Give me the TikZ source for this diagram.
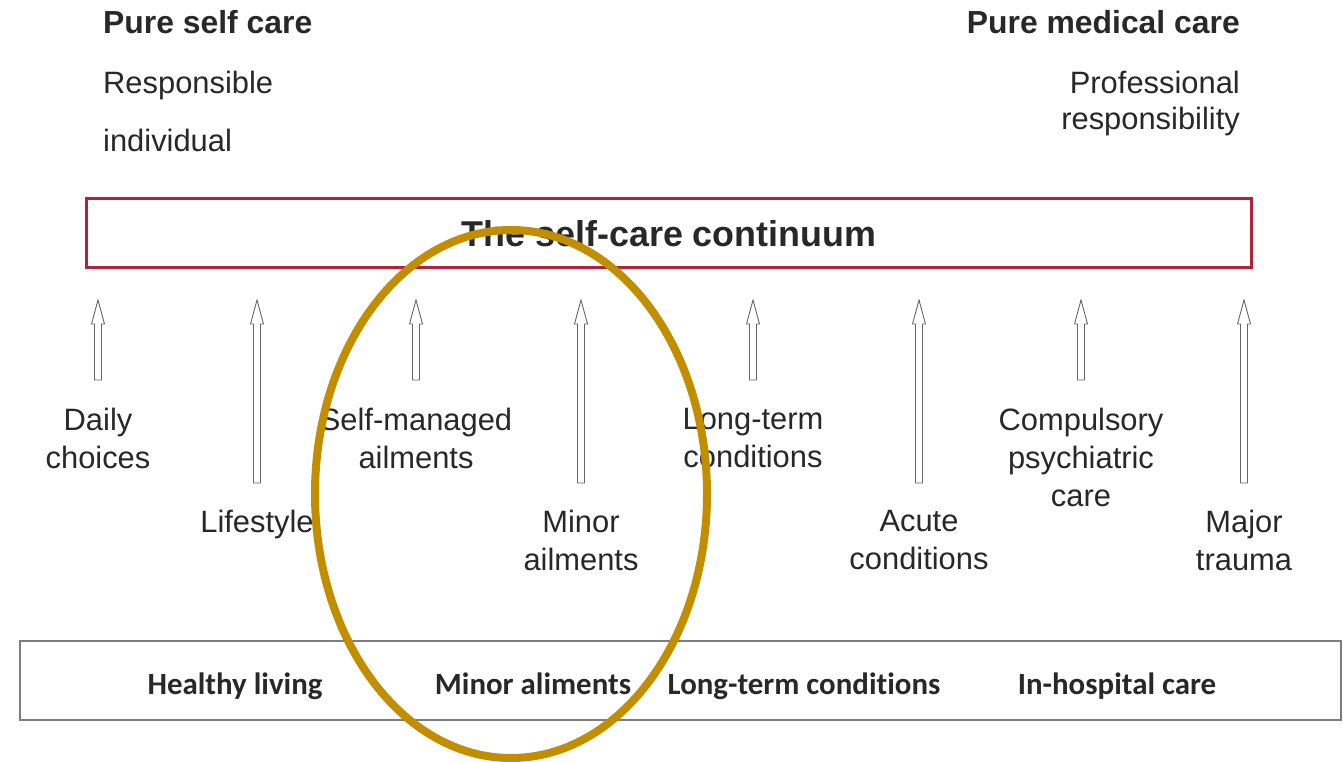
\documentclass[tikz,border=0pt]{standalone}
\usepackage{fontspec}
\setmainfont{Liberation Sans}
\newfontfamily\boxfont[Ligatures={NoCommon}]{Carlito}
\definecolor{contred}{RGB}{178,34,58}
\definecolor{gold}{RGB}{194,142,0}
\definecolor{boxgray}{RGB}{125,125,125}
\definecolor{txt}{RGB}{40,40,40}
\begin{document}
\begin{tikzpicture}[x=1bp,y=-1bp,
  head/.style={font=\bfseries\fontsize{32}{37}\selectfont,text=txt,inner sep=0},
  sub/.style={font=\fontsize{31}{37}\selectfont,text=txt,inner sep=0},
  lbl/.style={font=\fontsize{31}{38}\selectfont,text=txt,inner sep=0,align=center,anchor=north},
  catlbl/.style={font=\boxfont\bfseries\fontsize{31}{36}\selectfont,text=txt,inner sep=0,anchor=base},
  blockarr/.style={draw=black!60,fill=white,line width=0.9bp,line join=miter},
  ]
\useasboundingbox (0,0) rectangle (1343,761);
\fill[white] (0,0) rectangle (1343,761);

% header texts
\node[head,anchor=base west] (psc) at (103,34) {Pure self care};
\node[sub,anchor=base west] (resp) at (103,93) {Responsible};
\node[sub,anchor=base west] (indiv) at (103,151) {individual};
\node[head,anchor=base east] (pmc) at (1240,34) {Pure medical care};
\node[sub,anchor=base east] (prof) at (1240,93) {Professional};
\node[sub,anchor=base east] (presp) at (1240,129) {responsibility};

% continuum box
\node[draw=contred,line width=3bp,minimum width=1164bp,minimum height=69bp,inner sep=0] (cont) at (669,232.5) {};
\node[font=\bfseries\fontsize{36}{40}\selectfont,text=txt,inner sep=0,anchor=base] (title) at (669,246) {The self-care continuum};

% block arrows
\newcommand\blkarrow[3]{%
  \draw[blockarr] (#1-3.5,#3) -- (#1-3.5,#2+24) -- (#1-6.5,#2+24) -- (#1,#2) -- (#1+6.5,#2+24) -- (#1+3.5,#2+24) -- (#1+3.5,#3) -- cycle;}
\blkarrow{98}{300}{380}
\blkarrow{257}{300}{483}
\blkarrow{416}{300}{380}
\blkarrow{581}{300}{483}
\blkarrow{753}{300}{380}
\blkarrow{919}{300}{483}
\blkarrow{1081}{300}{380}
\blkarrow{1244}{300}{483}

% labels
\node[lbl] (l1) at (98,408) {Daily\\choices};
\node[lbl] (l2) at (257,510) {Lifestyle};
\node[lbl] (l3) at (416,408) {Self-managed\\ailments};
\node[lbl] (l4) at (581,510) {Minor\\ailments};
\node[lbl] (l5) at (753,408) {Long-term\\conditions};
\node[lbl] (l6) at (919,510) {Acute\\conditions};
\node[lbl] (l7) at (1081,408) {Compulsory\\psychiatric\\care};
\node[lbl] (l8) at (1244,510) {Major\\trauma};

% bottom box
\node[draw=boxgray,line width=2bp,minimum width=1321bp,minimum height=79bp,inner sep=0] (cats) at (680.5,680.5) {};
\node[catlbl] (c1) at (235,694) {Healthy living};
\node[catlbl] (c2) at (533,694) {Minor aliments};
\node[catlbl] (c3) at (804,694) {Long-term conditions};
\node[catlbl] (c4) at (1117,694) {In-hospital care};

% highlight ellipse
\draw[gold,line width=8bp] (511,494) ellipse [x radius=196, y radius=264];
\end{tikzpicture}
\end{document}
